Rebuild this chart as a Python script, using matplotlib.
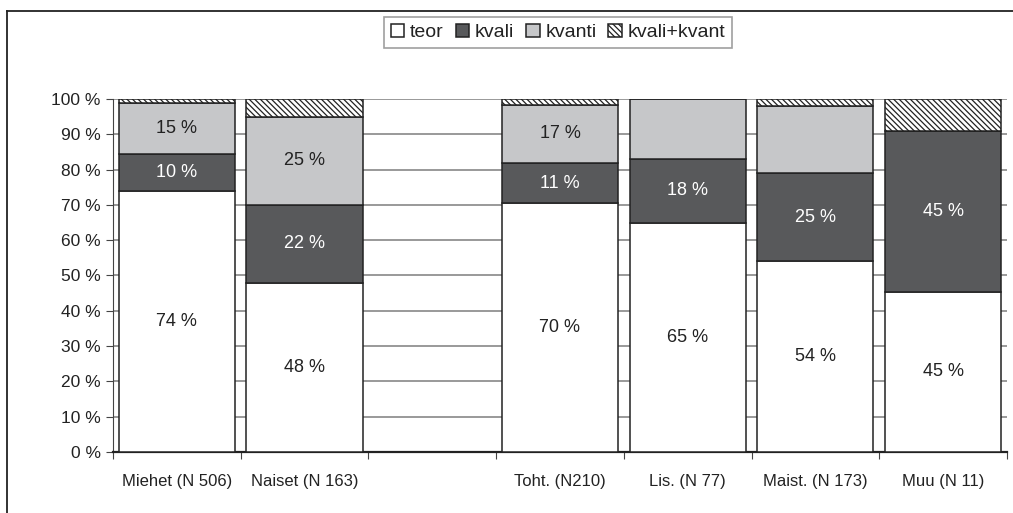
import numpy as np
import matplotlib.pyplot as plt
from matplotlib.lines import Line2D

plt.rcParams['font.family'] = ['Liberation Sans', 'DejaVu Sans']
plt.rcParams['hatch.linewidth'] = 0.9

# categories (empty slot between the two groups)
categories = ['Miehet (N 506)', 'Naiset (N 163)', '',
              'Toht. (N210)', 'Lis. (N 77)', 'Maist. (N 173)', 'Muu (N 11)']

# shares in percent, None = no bar
teor = [74, 48, None, 70.5, 65, 54, 45.45]
kvali = [10.5, 22, None, 11.4, 18, 25, 45.45]
kvanti = [14.5, 25, None, 16.4, 17, 19, 0]
kvali_kvant = [1, 5, None, 1.7, 0, 2, 9.1]

# printed labels (None = not printed)
teor_lbl = ['74 %', '48 %', None, '70 %', '65 %', '54 %', '45 %']
kvali_lbl = ['10 %', '22 %', None, '11 %', '18 %', '25 %', '45 %']
kvanti_lbl = ['15 %', '25 %', None, '17 %', None, None, None]

series = ['teor', 'kvali', 'kvanti', 'kvali+kvant']
colors = ['white', '#58595b', '#c6c7c9', 'white']
hatches = [None, None, None, '\\\\\\\\\\\\']
txt_colors = ['#222222', 'white', '#222222']


def main():
    fig = plt.figure(figsize=(10.13, 5.13), dpi=100)
    ax = fig.add_axes([0.1116, 0.119, 0.8824, 0.688])

    x = np.arange(len(categories))
    data = [teor, kvali, kvanti, kvali_kvant]
    labels = [teor_lbl, kvali_lbl, kvanti_lbl]
    keep = [i for i in range(len(categories)) if teor[i] is not None]
    xk = x[keep]
    bottom = np.zeros(len(keep))
    handles = []
    for k, vals in enumerate(data):
        v = np.array([vals[i] for i in keep], dtype=float)
        bars = ax.bar(xk, v, 0.91, bottom=bottom, color=colors[k],
                      edgecolor='#222222', linewidth=1.1, hatch=hatches[k],
                      zorder=3, label=series[k])
        handles.append(bars)
        if k < 3:
            for j, i in enumerate(keep):
                lab = labels[k][i]
                if lab is not None:
                    ax.text(xk[j], bottom[j] + v[j] / 2, lab, ha='center',
                            va='center', fontsize=13, color=txt_colors[k],
                            zorder=4)
        bottom = bottom + v

    ax.set_xlim(-0.5, len(categories) - 0.5)
    ax.set_ylim(0, 100)
    ax.set_yticks(np.arange(0, 101, 10))
    ax.set_yticklabels([f'{t} %' for t in range(0, 101, 10)])
    ax.yaxis.grid(True, color='#888888', linewidth=1.2, zorder=0)
    ax.set_axisbelow(True)

    # tick marks between categories, labels at centers
    ax.set_xticks(np.arange(-0.5, len(categories), 1.0))
    ax.set_xticklabels([])
    ax.set_xticks(x, minor=True)
    ax.set_xticklabels(categories, minor=True)
    ax.tick_params(axis='x', which='minor', length=0, pad=16, labelsize=12,
                   labelcolor='#222222')
    ax.tick_params(axis='x', which='major', length=5, color='#444444')
    ax.tick_params(axis='y', length=5, color='#444444', labelsize=12.5,
                   labelcolor='#222222', pad=4)

    for s in ['top', 'right']:
        ax.spines[s].set_visible(False)
    ax.spines['bottom'].set_color('#222222')
    ax.spines['bottom'].set_linewidth(1.6)
    ax.spines['left'].set_color('#444444')

    leg = fig.legend(handles=handles, loc='center', bbox_to_anchor=(0.551, 0.937),
                     ncol=4, fontsize=14, frameon=True, fancybox=False,
                     handlelength=0.7, handleheight=0.7, handletextpad=0.3,
                     columnspacing=0.6, borderpad=0.35, labelcolor='#222222')
    leg.get_frame().set_edgecolor('#888888')
    leg.get_frame().set_linewidth(1.2)

    # outer frame (left and top)
    fig.add_artist(Line2D([0.0069, 0.0069], [0, 0.9786], color='#222222',
                          linewidth=1.3, transform=fig.transFigure))
    fig.add_artist(Line2D([0.0069, 1.0], [0.9786, 0.9786], color='#222222',
                          linewidth=1.3, transform=fig.transFigure))

    fig.savefig('out.png', dpi=100)


if __name__ == "__main__":
    main()
